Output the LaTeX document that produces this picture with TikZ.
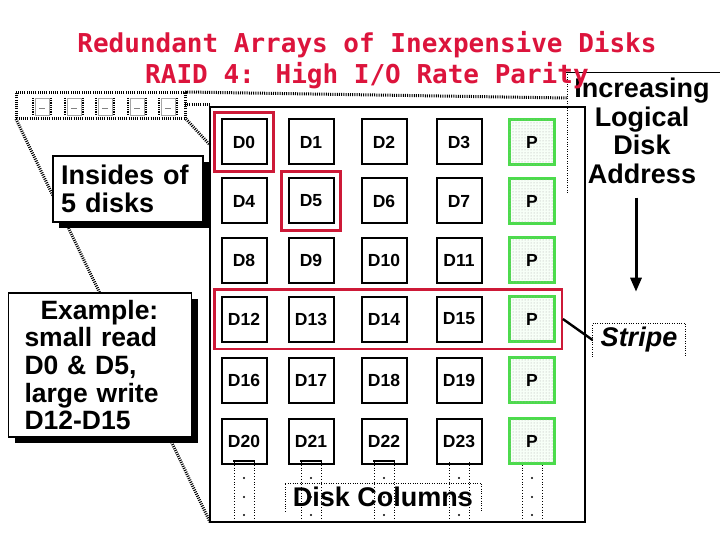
\documentclass[tikz,border=0pt]{standalone}
\usepackage{fontspec}
\setmainfont{Liberation Sans}
\newfontfamily\titlefont{DejaVu Sans Mono}
\usepackage{tikz}
\usetikzlibrary{positioning,fit,arrows.meta,patterns,shadows}
\definecolor{raidred}{RGB}{220,20,60}
\definecolor{hired}{RGB}{205,25,55}
\definecolor{pargreen}{RGB}{75,220,75}
\tikzset{
  cell/.style={draw,line width=2pt,minimum size=45pt,inner sep=0pt,
               font=\fontsize{17.5}{17.5}\selectfont\bfseries},
  parity/.style={cell,draw=pargreen,line width=2.4pt,fill=green!3,
               postaction={pattern=dots,pattern color=gray!70}},
  hilite/.style={draw=hired,line width=2.4pt,inner sep=6pt},
  note/.style={draw,line width=1.8pt,fill=white,align=left,inner sep=8pt,
               font=\fontsize{27}{28.5}\selectfont\bfseries,
               drop shadow={shadow xshift=6pt,shadow yshift=-6pt,fill=black,opacity=1}},
  lbl/.style={inner sep=6pt,font=\fontsize{27}{28.5}\selectfont\bfseries},
  hatch/.style={line width=3pt,dash pattern=on 1pt off 1.2pt},
  frame/.style={line width=2.2pt},
  arr/.style={line width=3pt,-{Triangle[length=14pt,width=11pt]}},
}

\begin{document}
\begin{tikzpicture}[x=1pt,y=-1pt]
  \useasboundingbox (0,0) rectangle (720,540);
  % the five disks, seen from outside, and their perspective lines
  \draw[hatch] (185,92) -- (567,98);
  \draw[hatch] (185,105) -- (210,105);
  \draw[hatch] (186,119) -- (210,145);
  \draw[hatch] (16,119) -- (210,522);
  \draw[hatch] (16,93) rectangle (185,119);
  \foreach \x in {42,74,105,137,168}{
    \draw[gray!70,line width=0.8pt] (\x-7,98) rectangle (\x+7,115);
    \draw[gray] (\x-3,108) -- (\x+3,108);
    \draw[line width=2pt,dash pattern=on 0.8pt off 1pt] (\x-9,98) -- (\x-9,115) (\x+9,98) -- (\x+9,115);
  }

  % array frame and the columns running on below
  \draw[frame] (210,107) rectangle (585,522);
  \foreach \x in {244,311,384,459,532}{
    \draw[dotted,line width=0.8pt] (\x-10,462) -- (\x-10,522) (\x+10,462) -- (\x+10,522);
    \foreach \y in {478,497,515} \fill (\x,\y) circle (1.2pt);
  }
  \foreach \x in {244,311,384,532} \draw[line width=1.2pt] (\x-11,461) -- (\x+11,461);

  % blocks
  \foreach \r/\y in {0/142,1/201,2/260,3/319,4/380,5/441}{
    \foreach \c/\x in {0/244,1/311,2/384,3/459}{
      \pgfmathtruncatemacro\n{4*\r+\c}
      \node[cell] (d\n) at (\x,\y) {D\n};
    }
    \node[parity] (p\r) at (532,\y) {P};
  }
  \node[hilite,fit=(d0)] (rd0) {};
  \node[hilite,fit=(d5)] (rd5) {};
  \node[hilite,fit=(d12)(p3)] (stripebox) {};

  % notes on the left
  \node[note,text width=134pt,minimum height=66pt] (insides) at (128,189) {Insides of\\5 disks};
  \node[note,text width=151pt,inner xsep=16pt,inner ysep=4pt,minimum height=144pt,
        font=\fontsize{26.5}{27.7}\selectfont\bfseries] (example) at (100,365)
        {\hspace*{16pt}Example:\\small read\\D0 \& D5,\\large write\\D12-D15};

  % address direction
  \draw (565,72) -- (720,72);
  \draw[dotted] (567,72) -- (567,193);
  \node[lbl,align=center,inner sep=0pt,anchor=north] (addr) at (642,78) {Increasing\\Logical\\Disk\\Address};
  \draw[arr] ([shift={(-6pt,-14pt)}]addr.south) -- ++(0,94);

  % stripe label
  \node[lbl,inner xsep=8pt,inner ysep=4pt,font=\fontsize{27}{27}\selectfont\bfseries\itshape] (stripe) at (639,340) {Stripe};
  \draw[dotted] (stripe.south west) |- (stripe.north east) -- (stripe.south east);
  \draw[line width=2.4pt] (stripebox.east) -- (stripe.west);

  % columns label
  \node[lbl,inner xsep=8pt,inner ysep=4pt] (cols) at (383,497) {Disk Columns};
  \draw[dotted] (cols.south west) |- (cols.north east) -- (cols.south east);

  % title
  \node[text=raidred,align=center,font=\titlefont\fontsize{26}{31}\selectfont\bfseries] (title) at (367,60)
        {Redundant Arrays of Inexpensive Disks\\RAID 4: High I/O Rate Parity};
\end{tikzpicture}
\end{document}
